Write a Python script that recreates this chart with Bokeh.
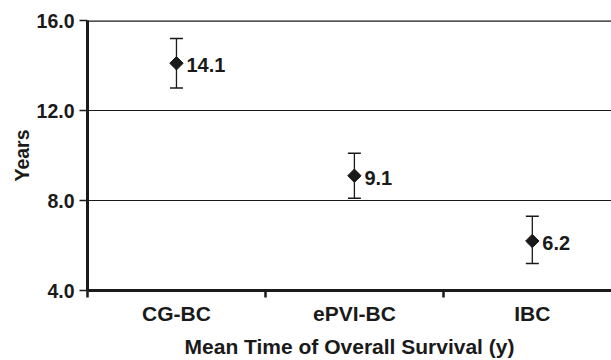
import numpy as np
from bokeh.plotting import figure
from bokeh.models import ColumnDataSource, FixedTicker, Whisker, TeeHead, Span, LabelSet
from bokeh.core.properties import value
from bokeh.embed import file_html
from bokeh.resources import INLINE

categories = ["CG-BC", "ePVI-BC", "IBC"]
means = [14.1, 9.1, 6.2]
upper = [15.2, 10.1, 7.3]
lower = [13.0, 8.1, 5.2]
value_labels = ["14.1", "9.1", "6.2"]
y_ticks = [4, 8, 12, 16]
y_tick_labels = ["4.0", "8.0", "12.0", "16.0"]

FONT = "Liberation Sans"
INK = "#1a1a1a"

xpos = [i + 0.5 for i in range(len(categories))]
src = ColumnDataSource(dict(x=xpos, y=means, up=upper, lo=lower, lab=value_labels))

p = figure(width=611, height=360, output_backend="svg", toolbar_location=None,
           x_range=(0, 2.945), y_range=(4, 16),
           min_border_left=87, min_border_right=0, min_border_top=20, min_border_bottom=0)
p.outline_line_color = None
p.background_fill_color = "white"
p.border_fill_color = "white"

# x axis
xa = p.xaxis[0]
xa.ticker = FixedTicker(ticks=xpos, minor_ticks=[0, 1, 2, 3])
xa.major_label_overrides = {x: c for x, c in zip(xpos, categories)}
xa.major_tick_line_color = None
xa.minor_tick_out = 7
xa.minor_tick_in = 0
xa.minor_tick_line_width = 2.5
xa.minor_tick_line_color = INK
xa.axis_line_width = 3
xa.axis_line_color = INK
xa.major_label_text_font = FONT
xa.major_label_text_font_style = "bold"
xa.major_label_text_font_size = "21px"
xa.major_label_text_color = INK
xa.major_label_standoff = 4
xa.axis_label = "Mean Time of Overall Survival (y)"
xa.axis_label_text_font = FONT
xa.axis_label_text_font_style = "bold"
xa.axis_label_text_font_size = "21px"
xa.axis_label_text_color = INK
xa.axis_label_standoff = 7

# y axis
ya = p.yaxis[0]
ya.ticker = FixedTicker(ticks=y_ticks)
ya.major_label_overrides = {t: l for t, l in zip(y_ticks, y_tick_labels)}
ya.minor_tick_line_color = None
ya.major_tick_out = 8
ya.major_tick_in = 0
ya.major_tick_line_width = 1.5
ya.major_tick_line_color = INK
ya.axis_line_width = 3
ya.axis_line_color = INK
ya.major_label_text_font = FONT
ya.major_label_text_font_style = "bold"
ya.major_label_text_font_size = "19.5px"
ya.major_label_text_color = INK
ya.major_label_standoff = 5
ya.axis_label = "Years"
ya.axis_label_text_font = FONT
ya.axis_label_text_font_style = "bold"
ya.axis_label_text_font_size = "19.5px"
ya.axis_label_text_color = INK
ya.axis_label_standoff = 1

p.xgrid.grid_line_color = None
p.ygrid.ticker = FixedTicker(ticks=[8, 12])
p.ygrid.grid_line_color = INK
p.ygrid.grid_line_width = 1.2
p.add_layout(Span(location=16, dimension="width", line_color=INK, line_width=2.5))

w = Whisker(source=src, base="x", upper="up", lower="lo",
            line_color=INK, line_width=1.3,
            upper_head=TeeHead(size=13, line_color=INK, line_width=1.3),
            lower_head=TeeHead(size=13, line_color=INK, line_width=1.3))
p.add_layout(w)

p.scatter("x", "y", source=src, marker="square", angle=np.pi / 4, size=9.5,
          fill_color=INK, line_color=INK)

labels = LabelSet(source=src, x="x", y="y", text="lab", x_offset=10, y_offset=-2,
                  text_baseline="middle", text_font=value(FONT), text_font_style="bold",
                  text_font_size="20px", text_color=INK)
p.add_layout(labels)

open("out.html", "w").write(file_html(p, INLINE))
